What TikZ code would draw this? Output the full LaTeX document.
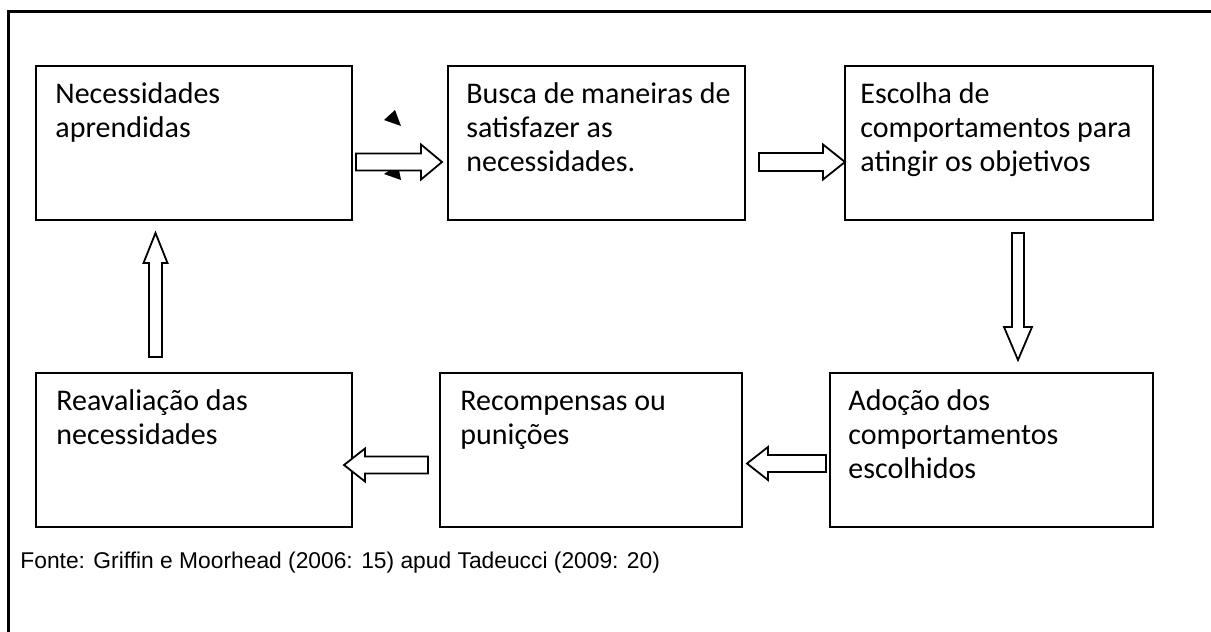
\documentclass[tikz,border=0pt]{standalone}
\usepackage{fontspec}
\setmainfont{Carlito}
\newfontfamily\arialfont{Liberation Sans}
\usetikzlibrary{calc,positioning}

% hollow block arrow: start, end, shaft half-width, head half-width, head length
\newcommand{\hollowarrow}[5]{%
  \draw[hollow] let \p1=(#1), \p2=(#2),
      \n1={atan2(\y2-\y1,\x2-\x1)}, \n2={veclen(\x2-\x1,\y2-\y1)} in
    {[shift={(\p1)}, rotate=\n1]
    (0pt,-#3) -- ({\n2*1pt-#5},-#3) -- ({\n2*1pt-#5},-#4) -- ({\n2*1pt},0pt)
    -- ({\n2*1pt-#5},#4) -- ({\n2*1pt-#5},#3) -- (0pt,#3) -- cycle};
}
% same top for every first line
\newcommand{\linetop}{\rule{0pt}{12pt}}

\begin{document}
\begin{tikzpicture}[
    x=0.5pt, y=-0.5pt,
    node distance=48pt,
    box/.style={draw, line width=1pt, inner sep=0pt, outer sep=0pt, minimum height=77pt, minimum width=#1},
    txt/.style={anchor=north west, align=left, inner sep=0pt, font=\fontsize{15}{17}\selectfont},
    fonte/.style={inner sep=0pt, font=\arialfont\fontsize{11.4}{13}\selectfont},
    hollow/.style={draw, line width=0.9pt, fill=white, line join=miter}
]
\useasboundingbox (0,0) rectangle (1211,632);
\draw[line width=1.5pt] (1211,11) -- (8,11) -- (8,632);

% top row
\node[box=158pt] (nec) at (194,143) {};
\node[box=148.5pt, right=48pt of nec] (bus) {};
\node[box=154pt, right=50pt of bus] (esc) {};
% bottom row
\node[box=158pt, below=76.5pt of nec] (rea) {};
\node[box=151pt, right=44pt of rea] (rec) {};
\node[box=161.5pt, right=44pt of rec] (ado) {};

\node[txt] (nec-t) at ($(nec.north west)+(19,13)$) {\linetop Necessidades\\aprendidas};
\node[txt] (bus-t) at ($(bus.north west)+(18,13)$) {\linetop Busca de maneiras de\\satisfazer as\\necessidades.};
\node[txt] (esc-t) at ($(esc.north west)+(15,13)$) {\linetop Escolha de\\comportamentos para\\atingir os objetivos};
\node[txt] (rea-t) at ($(rea.north west)+(20,13)$) {\linetop Reavaliação das\\necessidades};
\node[txt] (rec-t) at ($(rec.north west)+(20,13)$) {\linetop Recompensas ou\\punições};
\node[txt] (ado-t) at ($(ado.north west)+(18,13)$) {\linetop Adoção dos\\comportamentos\\escolhidos};

% stray arrow heads
\fill (384,120) -- (395,110) -- (401,126) -- cycle;
\fill (384,174) -- (398,165) -- (401,180) -- cycle;

\hollowarrow{$(nec.east)+(4,19)$}{$(bus.west)+(-6,19)$}{4.25pt}{8.75pt}{10.5pt}
\hollowarrow{$(bus.east)+(14,19)$}{$(esc.west)+(0,19)$}{4.5pt}{8.75pt}{11pt}
\hollowarrow{$(esc.south)+(19,13)$}{$(ado.north)+(26.5,-13)$}{3pt}{7pt}{16.5pt}
\hollowarrow{$(ado.west)+(-4,13.5)$}{$(rec.east)+(5,13.5)$}{4.25pt}{8.25pt}{10.5pt}
\hollowarrow{$(rec.west)+(-12,15)$}{$(rea.east)+(-8,15)$}{4.25pt}{8.25pt}{10.5pt}
\hollowarrow{$(rea.north)+(-38.5,-16)$}{$(nec.south)+(-38.5,13)$}{3.25pt}{6pt}{15pt}

\node[fonte, anchor=base west] (fonte) at (20,568) {Fonte: Griffin e Moorhead (2006: 15) apud Tadeucci (2009: 20)};
\end{tikzpicture}
\end{document}
